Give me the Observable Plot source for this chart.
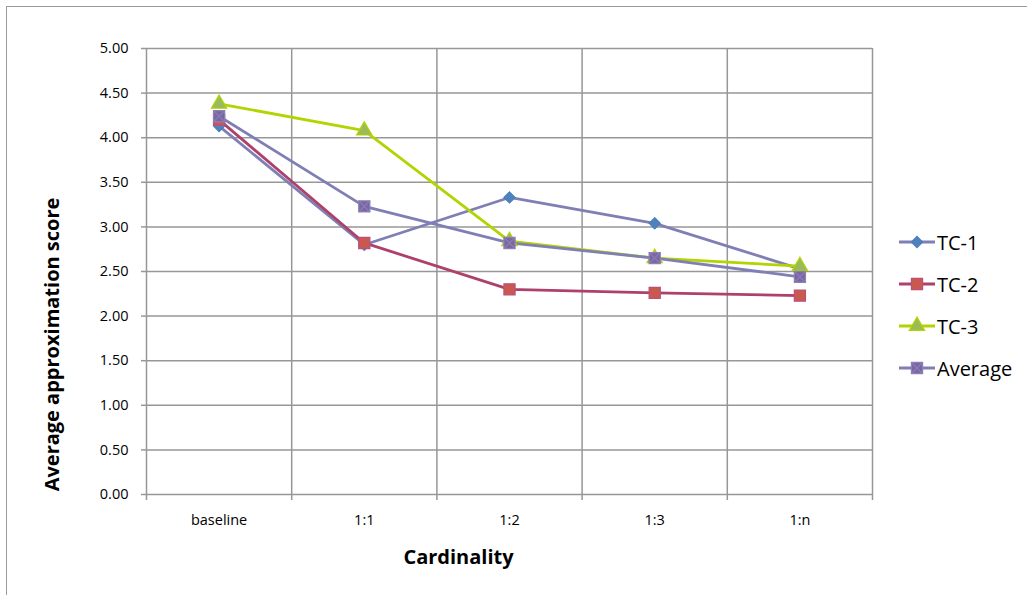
<!DOCTYPE html>
<html>
<head>
<meta charset="utf-8">
<script src="https://cdn.jsdelivr.net/npm/d3@7"></script>
<script src="https://cdn.jsdelivr.net/npm/@observablehq/plot@0.6"></script>
<style>
  html, body { margin: 0; padding: 0; background: #fff; }
  #wrap { position: relative; width: 1027px; height: 595px; overflow: hidden; font-family: "Open Sans", sans-serif; }
  #border { position: absolute; left: 6px; top: 6px; width: 1030px; height: 600px; border-left: 1.5px solid #9a9a9a; border-top: 1.5px solid #9a9a9a; }
  #chart { position: absolute; left: 0; top: 0; }
  #legend { position: absolute; left: 898px; top: 221px; }
  .item { display: flex; align-items: center; height: 42px; font-size: 20px; color: #000; }
  .item svg { margin-right: 1px; }
</style>
</head>
<body>
<div id="wrap">
  <div id="border"></div>
  <div id="chart"></div>
  <div id="legend"></div>
</div>
<script>
// Cardinality categories along the x axis
const categories = ["baseline", "1:1", "1:2", "1:3", "1:n"];

// Average approximation score per test case
const tc1 = [4.13, 2.80, 3.33, 3.04, 2.53];
const tc2 = [4.20, 2.82, 2.30, 2.26, 2.23];
const tc3 = [4.38, 4.08, 2.84, 2.65, 2.56];
const average = [4.24, 3.23, 2.82, 2.65, 2.44];

const seriesNames = ["TC-1", "TC-2", "TC-3", "Average"];
const seriesValues = [tc1, tc2, tc3, average];

// y ticks
const yTicks = d3.range(0, 5.01, 0.5);

const styles = {
  "TC-1":    {line: "#7f7fb6", fill: "#4f81bd", stroke: "#4a7ebb", symbol: "diamond2", r: 5.0},
  "TC-2":    {line: "#ad416c", fill: "#c9594f", stroke: "#b9507c", symbol: "square", r: 6.3},
  "TC-3":    {line: "#b2d400", fill: "#9bbb59", stroke: "#b2d400", symbol: "triangle", r: 5.7},
  "Average": {line: "#7f7fb6", fill: "#8064a2", stroke: "#8f80b8", symbol: "square", r: 6.3}
};

const rows = seriesNames.flatMap((name, s) =>
  seriesValues[s].map((v, i) => ({series: name, i, category: categories[i], value: v}))
);

// band edges between categories: positions -0.5, 0.5, ... 4.5
const edges = d3.range(-0.5, categories.length, 1);

const lineMarks = seriesNames.map(name =>
  Plot.line(rows.filter(d => d.series === name), {
    x: "i", y: "value", stroke: styles[name].line, strokeWidth: 2.8, curve: "linear"
  })
);

const dotMarks = seriesNames.flatMap(name => {
  const st = styles[name];
  const data = rows.filter(d => d.series === name);
  const marks = [Plot.dot(data, {x: "i", y: "value", symbol: st.symbol, r: st.r, fill: st.fill, stroke: st.stroke, strokeWidth: 1.2})];
  if (name === "Average") {
    marks.push(Plot.dot(data, {x: "i", y: "value", symbol: "times", r: 5.0, stroke: "#7f7fb6", strokeWidth: 1.4}));
  }
  return marks;
});

const chart = Plot.plot({
  width: 1027,
  height: 595,
  marginLeft: 146,
  marginRight: 155,
  marginTop: 48,
  marginBottom: 101,
  style: {fontFamily: "Open Sans, sans-serif", fontSize: "14.5px", color: "#000", background: "transparent"},
  x: {type: "linear", domain: [-0.5, categories.length - 0.5]},
  y: {domain: [0, 5]},
  marks: [
    // horizontal grid
    Plot.ruleY(yTicks, {stroke: "#979797", strokeWidth: 1.5}),
    // vertical grid at band edges
    Plot.ruleX(edges, {stroke: "#979797", strokeWidth: 1.5}),
    // y axis ticks and labels
    Plot.axisY(yTicks, {tickSize: 5, tickPadding: 13, tickFormat: d3.format(".2f"), stroke: "#979797", strokeWidth: 1.5, label: null, fontSize: 14.5}),
    // small ticks below the x axis at band edges
    Plot.axisX(edges, {tickSize: 6, tickFormat: () => "", stroke: "#979797", strokeWidth: 1.5, label: null}),
    // category labels at band centers
    Plot.axisX(d3.range(categories.length), {tickSize: 0, tickPadding: 20, tickFormat: i => categories[i], label: null, fontSize: 14.5}),
    ...lineMarks,
    ...dotMarks,
    Plot.text(["Average approximation score"], {frameAnchor: "left", textAnchor: "middle", dx: -94, dy: 73, rotate: -90, fontSize: 20, fontWeight: "bold", fill: "#000"}),
    Plot.text(["Cardinality"], {frameAnchor: "bottom", textAnchor: "middle", dx: -51, dy: 69, fontSize: 20, fontWeight: "bold", fill: "#000"})
  ]
});
document.getElementById("chart").appendChild(chart);

// legend: line swatch with marker, then series name
const legend = d3.select("#legend");
seriesNames.forEach(name => {
  const st = styles[name];
  const item = legend.append("div").attr("class", "item");
  const svg = item.append("svg").attr("width", 38).attr("height", 20);
  svg.append("line").attr("x1", 1).attr("x2", 37).attr("y1", 10).attr("y2", 10)
    .attr("stroke", st.line).attr("stroke-width", 2.8);
  const symType = {diamond2: d3.symbolDiamond2, square: d3.symbolSquare, triangle: d3.symbolTriangle}[st.symbol];
  svg.append("path").attr("transform", "translate(19,10)")
    .attr("d", d3.symbol(symType, Math.PI * st.r * st.r)())
    .attr("fill", st.fill).attr("stroke", st.stroke).attr("stroke-width", 1.2);
  if (name === "Average") {
    svg.append("path").attr("transform", "translate(19,10)")
      .attr("d", d3.symbol(d3.symbolTimes, Math.PI * 5.0 * 5.0)())
      .attr("fill", "none").attr("stroke", "#7f7fb6").attr("stroke-width", 1.4);
  }
  item.append("span").text(name);
});
</script>
</body>
</html>
